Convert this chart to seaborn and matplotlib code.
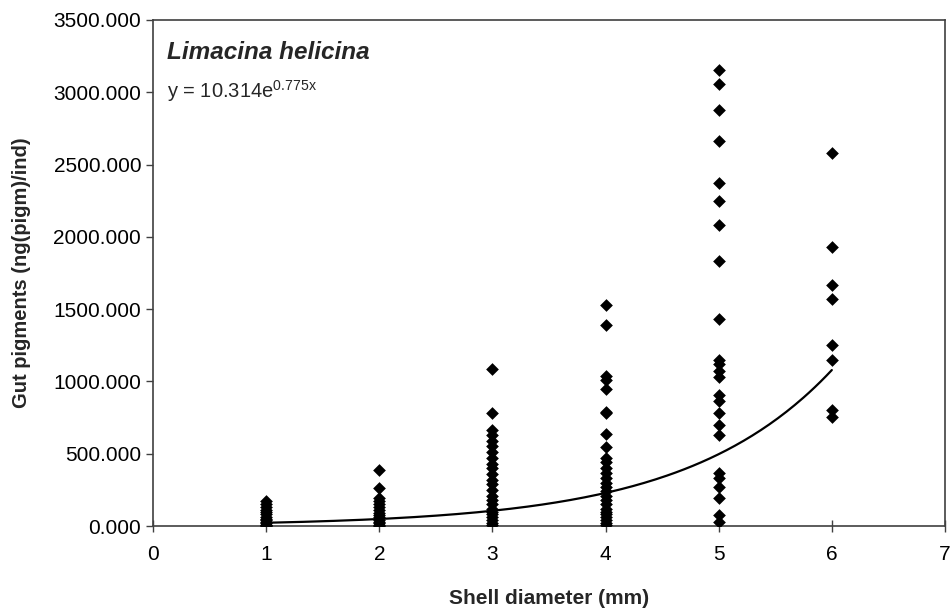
import numpy as np
import pandas as pd
import matplotlib
matplotlib.use("Agg")
import matplotlib.pyplot as plt
import seaborn as sns

# gut pigment values per shell diameter class
gut_1mm = [175, 150, 130, 110, 95, 80, 65, 50, 40, 30, 20, 10, 5, 0]
gut_2mm = [385, 260, 195, 170, 150, 130, 110, 90, 75, 60, 45, 30, 20, 10, 0]
gut_3mm = [1085, 785, 665, 630, 590, 550, 510, 470, 430, 400, 360, 320, 290,
           250, 210, 180, 150, 120, 100, 80, 60, 40, 20, 5]
gut_4mm = [1530, 1390, 1040, 1010, 950, 790, 780, 635, 545, 470, 440, 400,
           370, 330, 300, 270, 240, 210, 180, 150, 120, 100, 80, 60, 40, 20, 5]
gut_5mm = [3155, 3060, 2880, 2660, 2370, 2245, 2080, 1835, 1430, 1145, 1120,
           1075, 1030, 905, 865, 785, 700, 630, 370, 335, 270, 195, 75, 25]
gut_6mm = [2580, 1930, 1665, 1570, 1250, 1145, 805, 755]

diameters = [1, 2, 3, 4, 5, 6]
groups = [gut_1mm, gut_2mm, gut_3mm, gut_4mm, gut_5mm, gut_6mm]

# exponential trendline coefficients as printed on the chart
fit_a = 10.314
fit_b = 0.775

df = pd.DataFrame({
    'diameter': np.concatenate([[d] * len(g) for d, g in zip(diameters, groups)]),
    'gut': np.concatenate(groups),
})

trend_x = np.linspace(1, 6, 200)
trend = pd.DataFrame({'diameter': trend_x, 'gut': fit_a * np.exp(fit_b * trend_x)})

sns.set_style("white")
plt.rcParams['font.family'] = ['Liberation Sans', 'DejaVu Sans']

fig = plt.figure(figsize=(9.52, 6.13), dpi=100)
ax = fig.add_axes([0.1607, 0.1419, 0.8319, 0.8255])

sns.scatterplot(data=df, x='diameter', y='gut', marker='D', s=42,
                color='black', edgecolor='black', linewidth=0, ax=ax, zorder=3)
sns.lineplot(data=trend, x='diameter', y='gut', color='black', linewidth=1.6,
             ax=ax, zorder=2)

ax.set_xlim(0, 7)
ax.set_ylim(0, 3500)
ax.set_xticks(range(0, 8))
ax.set_yticks(np.arange(0, 3501, 500))
ax.set_yticklabels([f"{v:.3f}" for v in np.arange(0, 3501, 500)])

for sp in ax.spines.values():
    sp.set_color('#404040')
    sp.set_linewidth(1.2)

ax.tick_params(axis='y', direction='out', length=5, width=1, colors='#404040',
               labelcolor='black', labelsize=15, left=True)
ax.tick_params(axis='x', direction='inout', length=9, width=1, colors='#404040',
               labelcolor='black', labelsize=15, bottom=True, pad=9)

ax.set_xlabel("Shell diameter (mm)", fontsize=15, fontweight='bold', labelpad=18)
ax.set_ylabel("Gut pigments (ng(pigm)/ind)", fontsize=14.5, fontweight='bold', labelpad=16)

ax.text(0.12, 3275, "Limacina helicina", fontsize=17.5, fontweight='bold',
        style='italic', va='center')
ax.text(0.12, 3010, r"y = 10.314e$^{\mathregular{0.775x}}$", fontsize=14.5,
        va='center')

fig.savefig("out.png", dpi=100)
